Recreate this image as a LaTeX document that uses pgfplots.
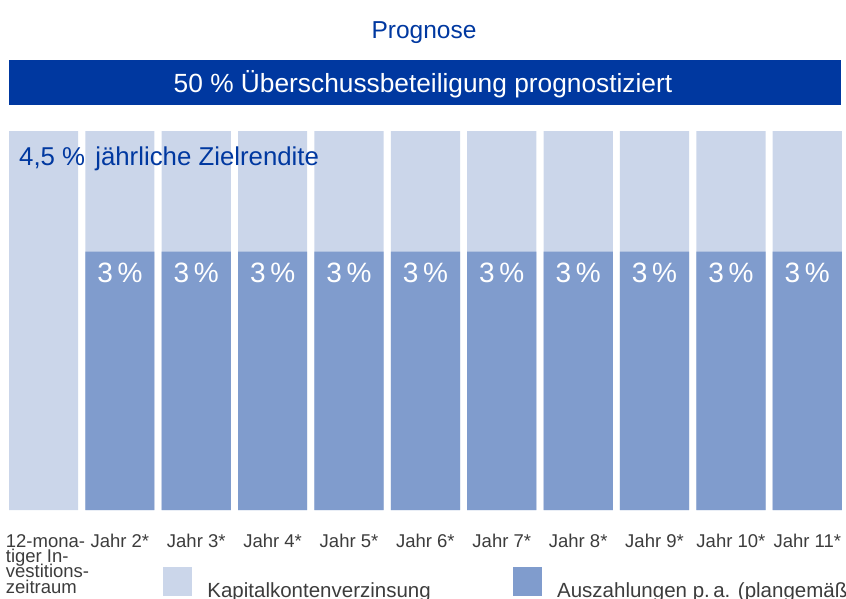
\documentclass[border=0pt]{standalone}
\usepackage{pgfplots}
\pgfplotsset{compat=1.18}
\usepackage{fontspec}
\setmainfont{Liberation Sans}
\definecolor{lightbar}{RGB}{203,214,234}
\definecolor{darkbar}{RGB}{128,156,205}
\definecolor{navy}{RGB}{0,56,160}
\definecolor{txtgray}{RGB}{60,60,60}
\newcommand{\tightlines}{\lineskiplimit=-30pt\relax\lineskip=0pt\relax}
\begin{document}
\begin{tikzpicture}
\begin{axis}[
  at={(9bp,-510bp)}, anchor=south west,
  scale only axis, width=832.9bp, height=379bp,
  xmin=-0.4517, xmax=10.453, ymin=0, ymax=4.4,
  ybar, bar width=69.2bp,
  axis line style={draw=none},
  major tick length=0pt,
  ytick=\empty,
  xtick={1,2,3,4,5,6,7,8,9,10},
  xticklabels={Jahr 2*,Jahr 3*,Jahr 4*,Jahr 5*,Jahr 6*,Jahr 7*,Jahr 8*,Jahr 9*,Jahr 10*,Jahr 11*},
  extra x ticks={0},
  extra x tick labels={{12-mona-\\tiger In-\\vestitions-\\zeitraum}},
  extra x tick style={xticklabel style={xshift=4bp}},
  xticklabel style={align=left, anchor=north, inner sep=0pt, yshift=-24bp,
    font=\fontsize{18.5bp}{15.3bp}\selectfont\tightlines, text=txtgray},
  legend columns=2,
  legend image code/.code={\fill[#1] (0bp,-6bp) rectangle (29.4bp,23.4bp);},
  legend style={at={(axis description cs:0.1849,-0.1504)}, anchor=north west,
    draw=none, fill=none, inner sep=0pt, outer sep=0pt,
    font=\fontsize{20.5bp}{24bp}\selectfont, text=txtgray,
    nodes={inner sep=0pt},
    /tikz/every odd column/.append style={column sep=15bp},
    /tikz/every even column/.append style={column sep=82bp}},
  legend cell align=left,
]
\addplot[fill=lightbar, draw=none, bar shift=0pt] coordinates {
  (0,4.4) (1,4.4) (2,4.4) (3,4.4) (4,4.4) (5,4.4) (6,4.4) (7,4.4) (8,4.4) (9,4.4) (10,4.4)};
\addlegendentry{Kapitalkontenverzinsung}
\addplot[fill=darkbar, draw=none, bar shift=0pt,
  nodes near coords={3\,\%},
  nodes near coords align={below},
  every node near coord/.append style={inner sep=0pt, yshift=-11bp, text=white,
    font=\fontsize{28bp}{30bp}\selectfont}] coordinates {
  (1,3) (2,3) (3,3) (4,3) (5,3) (6,3) (7,3) (8,3) (9,3) (10,3)};
\addlegendentry{Auszahlungen p.\,a. (plangemäß)}
\end{axis}
\node[text=navy, font=\fontsize{24.5bp}{28bp}\selectfont, anchor=base] at (424bp,-38.5bp) {Prognose};
\fill[navy] (9bp,-60bp) rectangle (841bp,-105bp);
\node[text=white, font=\fontsize{26.3bp}{30bp}\selectfont, anchor=base] at (423bp,-92bp) {50 \% Überschussbeteiligung prognostiziert};
\node[text=navy, font=\fontsize{25.8bp}{30bp}\selectfont, anchor=base west, inner sep=0pt] at (19bp,-165bp) {4,5 \%\kern3bp\ jährliche Zielrendite};
\pgfresetboundingbox
\path[use as bounding box] (0bp,0bp) rectangle (846bp,-599bp);
\end{tikzpicture}
\end{document}
